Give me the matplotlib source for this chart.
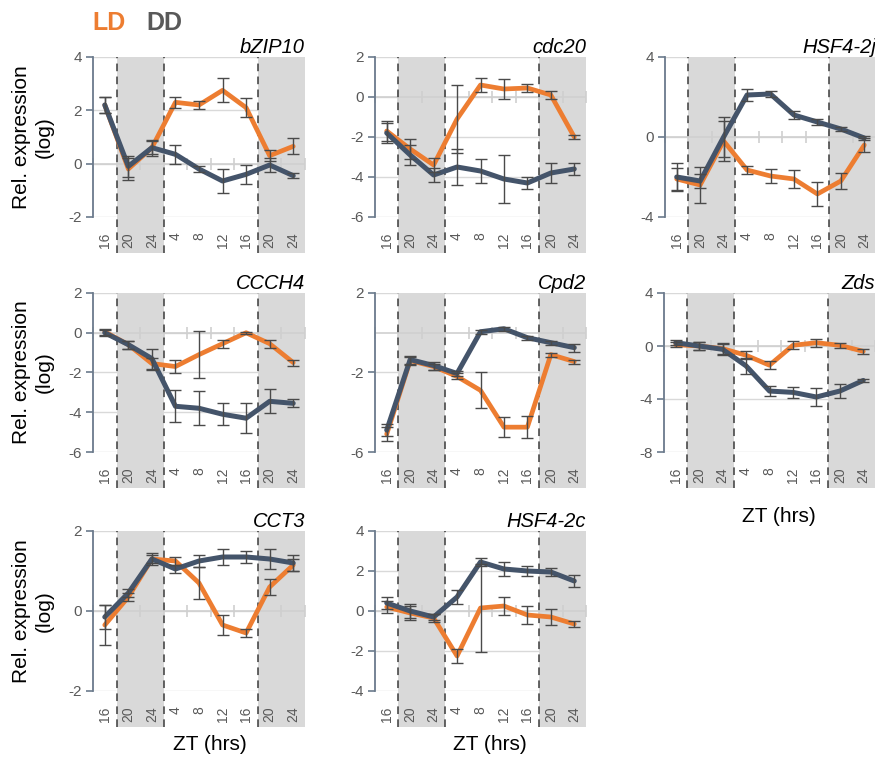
import matplotlib
matplotlib.use("Agg")
import matplotlib.pyplot as plt
from matplotlib.patches import Rectangle

plt.rcParams['font.family'] = ['Liberation Sans', 'DejaVu Sans']

# ---------------- data ----------------
zt_labels = ["16", "20", "24", "4", "8", "12", "16", "20", "24"]

genes = ["bZIP10", "cdc20", "HSF4-2j", "CCCH4", "Cpd2", "Zds", "CCT3", "HSF4-2c"]

ld_bZIP10 = [2.2, -0.2, 0.6, 2.3, 2.2, 2.75, 2.1, 0.3, 0.65]
ld_bZIP10_err = [0.3, 0.4, 0.25, 0.2, 0.15, 0.45, 0.35, 0.2, 0.3]
dd_bZIP10 = [2.2, -0.1, 0.6, 0.35, -0.2, -0.65, -0.4, -0.05, -0.45]
dd_bZIP10_err = [0.3, 0.4, 0.3, 0.35, 0.1, 0.45, 0.35, 0.25, 0.1]

ld_cdc20 = [-1.7, -2.6, -3.4, -1.1, 0.6, 0.4, 0.45, 0.1, -2.0]
ld_cdc20_err = [0.5, 0.5, 0.35, 1.7, 0.35, 0.5, 0.2, 0.2, 0.1]
dd_cdc20 = [-1.8, -2.9, -3.9, -3.5, -3.7, -4.1, -4.3, -3.8, -3.6]
dd_cdc20_err = [0.5, 0.5, 0.35, 0.9, 0.6, 1.2, 0.3, 0.5, 0.3]

ld_HSF42j = [-2.1, -2.4, -0.2, -1.65, -1.95, -2.1, -2.85, -2.2, -0.4]
ld_HSF42j_err = [0.55, 0.9, 1.0, 0.2, 0.35, 0.45, 0.6, 0.4, 0.35]
dd_HSF42j = [-2.0, -2.2, 0.0, 2.1, 2.15, 1.1, 0.75, 0.4, -0.05]
dd_HSF42j_err = [0.7, 0.35, 1.0, 0.3, 0.15, 0.2, 0.15, 0.1, 0.1]

ld_CCCH4 = [0.05, -0.6, -1.55, -1.7, -1.1, -0.55, 0.0, -0.55, -1.5]
ld_CCCH4_err = [0.15, 0.2, 0.3, 0.35, 1.2, 0.2, 0.05, 0.2, 0.15]
dd_CCCH4 = [0.0, -0.6, -1.3, -3.7, -3.8, -4.1, -4.3, -3.45, -3.55]
dd_CCCH4_err = [0.15, 0.2, 0.5, 0.8, 0.85, 0.55, 0.75, 0.6, 0.2]

ld_Cpd2 = [-5.1, -1.4, -1.7, -2.2, -2.9, -4.75, -4.75, -1.1, -1.45]
ld_Cpd2_err = [0.35, 0.2, 0.15, 0.15, 0.9, 0.5, 0.55, 0.1, 0.1]
dd_Cpd2 = [-4.9, -1.35, -1.65, -2.05, 0.05, 0.2, -0.25, -0.5, -0.75]
dd_Cpd2_err = [0.3, 0.2, 0.2, 0.15, 0.1, 0.1, 0.1, 0.1, 0.2]

ld_Zds = [0.1, 0.0, -0.2, -0.7, -1.45, 0.05, 0.25, 0.05, -0.4]
ld_Zds_err = [0.2, 0.3, 0.4, 0.3, 0.3, 0.3, 0.3, 0.2, 0.2]
dd_Zds = [0.25, 0.0, -0.25, -1.5, -3.4, -3.5, -3.85, -3.4, -2.6]
dd_Zds_err = [0.2, 0.3, 0.4, 0.6, 0.4, 0.4, 0.7, 0.5, 0.1]

ld_CCT3 = [-0.35, 0.35, 1.3, 1.25, 0.7, -0.35, -0.55, 0.6, 1.15]
ld_CCT3_err = [0.5, 0.1, 0.15, 0.1, 0.4, 0.25, 0.1, 0.2, 0.15]
dd_CCT3 = [-0.15, 0.45, 1.3, 1.05, 1.25, 1.35, 1.35, 1.3, 1.2]
dd_CCT3_err = [0.3, 0.1, 0.1, 0.1, 0.15, 0.2, 0.15, 0.25, 0.2]

ld_HSF42c = [0.2, -0.1, -0.35, -2.25, 0.15, 0.25, -0.2, -0.3, -0.65]
ld_HSF42c_err = [0.3, 0.35, 0.2, 0.35, 2.2, 0.45, 0.45, 0.4, 0.15]
dd_HSF42c = [0.4, 0.0, -0.3, 0.7, 2.45, 2.1, 2.0, 1.95, 1.5]
dd_HSF42c_err = [0.3, 0.35, 0.15, 0.35, 0.2, 0.35, 0.25, 0.2, 0.3]

ld_series = [ld_bZIP10, ld_cdc20, ld_HSF42j, ld_CCCH4, ld_Cpd2, ld_Zds, ld_CCT3, ld_HSF42c]
ld_errs = [ld_bZIP10_err, ld_cdc20_err, ld_HSF42j_err, ld_CCCH4_err, ld_Cpd2_err, ld_Zds_err, ld_CCT3_err, ld_HSF42c_err]
dd_series = [dd_bZIP10, dd_cdc20, dd_HSF42j, dd_CCCH4, dd_Cpd2, dd_Zds, dd_CCT3, dd_HSF42c]
dd_errs = [dd_bZIP10_err, dd_cdc20_err, dd_HSF42j_err, dd_CCCH4_err, dd_Cpd2_err, dd_Zds_err, dd_CCT3_err, dd_HSF42c_err]

y_limits = [(-2, 4), (-6, 2), (-4, 4), (-6, 2), (-6, 2), (-8, 4), (-2, 2), (-4, 4)]
y_ticks = [[-2, 0, 2, 4], [-6, -4, -2, 0, 2], [-4, 0, 4], [-6, -4, -2, 0, 2],
           [-6, -2, 2], [-8, -4, 0, 4], [-2, 0, 2], [-4, -2, 0, 2, 4]]

# ---------------- style ----------------
ORANGE = '#ED7D31'
NAVY = '#44546A'
GRAYTXT = '#595959'
SHADE = '#D9D9D9'
GRID = '#D9D9D9'
AXIS = '#6B7A8C'
ERR = '#4A4A4A'

W, H = 875, 758
fig = plt.figure(figsize=(W / 100, H / 100), dpi=100)

# panel boxes in pixels: (left, top, right, bottom)
boxes = [
    (93, 57, 305, 217), (375, 57, 586, 217), (665, 57, 876, 217),
    (93, 293, 305, 452), (375, 293, 586, 452), (664, 293, 875, 452),
    (93, 531, 305, 691), (375, 531, 586, 691),
]

x = list(range(len(zt_labels)))
shade_below_px = 36

for k, gene in enumerate(genes):
    l, t, r, b = boxes[k]
    ax = fig.add_axes([l / W, 1 - b / H, (r - l) / W, (b - t) / H])
    ax.set_xlim(-0.5, len(x) - 0.5)
    ax.set_ylim(*y_limits[k])
    hfrac = shade_below_px / (b - t)

    # dark shading
    for (x0, x1) in [(0.5, 2.5), (6.5, len(x) - 0.5)]:
        ax.add_patch(Rectangle((x0, -hfrac), x1 - x0, 1 + hfrac,
                               transform=ax.get_xaxis_transform(),
                               facecolor=SHADE, edgecolor='none',
                               clip_on=False, zorder=0))
    # gridlines
    for yt in y_ticks[k]:
        ax.axhline(yt, color=GRID, lw=1.0, zorder=0.8)
    # category axis at zero with cross ticks
    ax.axhline(0, color='#D0D0D0', lw=1.2, zorder=0.9)
    ax.plot([i + 0.5 for i in range(-1, len(x))], [0] * (len(x) + 1),
            linestyle='none', marker='|', markersize=9, mew=1.2,
            color='#CFCFCF', zorder=0.9, clip_on=False)
    # dashed boundaries
    for xd in [0.5, 2.5, 6.5]:
        ax.axvline(xd, ymin=-hfrac, ymax=1, color='#3A3A3A', lw=1.1,
                   linestyle=(0, (5, 3.5)), clip_on=False, zorder=1)

    # lines
    ax.plot(x, ld_series[k], color=ORANGE, lw=3.4, solid_joinstyle='round',
            solid_capstyle='round', zorder=3)
    ax.plot(x, dd_series[k], color=NAVY, lw=3.6, solid_joinstyle='round',
            solid_capstyle='round', zorder=3.5)
    ax.errorbar(x, ld_series[k], yerr=ld_errs[k], fmt='none', ecolor=ERR,
                elinewidth=1.0, capsize=4, capthick=1.0, zorder=4)
    ax.errorbar(x, dd_series[k], yerr=dd_errs[k], fmt='none', ecolor=ERR,
                elinewidth=1.0, capsize=4, capthick=1.0, zorder=4)

    # axes styling
    for s in ['top', 'right', 'bottom']:
        ax.spines[s].set_visible(False)
    ax.spines['left'].set_color(AXIS)
    ax.spines['left'].set_linewidth(1.3)
    ax.spines['left'].set_zorder(2)
    ax.set_yticks(y_ticks[k])
    ax.set_yticklabels([str(v) for v in y_ticks[k]])
    ax.tick_params(axis='y', colors=AXIS, length=5, width=1.2, pad=3,
                   labelsize=11, labelcolor=GRAYTXT)
    ax.set_xticks(x)
    ax.set_xticklabels(zt_labels, rotation=90)
    ax.tick_params(axis='x', length=0, pad=11, labelsize=10, labelcolor=GRAYTXT)
    ax.set_title(gene, loc='right', fontstyle='italic', fontsize=14.5,
                 pad=3, color='black')

# y labels
for (l, t, r, b) in [boxes[0], boxes[3], boxes[6]]:
    fig.text(33 / W, 1 - (t + b) / 2 / H, "Rel. expression\n(log)", rotation=90,
             ha='center', va='center', multialignment='center',
             fontsize=15, color='black', linespacing=1.25)

# x labels
for (px, py) in [(210, 745), (490, 745), (779, 517)]:
    fig.text(px / W, 1 - py / H, "ZT (hrs)", ha='center', va='center',
             fontsize=15, color='black')

# legend text
fig.text(92 / W, 1 - 23 / H, "LD", color=ORANGE, fontsize=18,
         fontweight='bold', ha='left', va='center')
fig.text(146 / W, 1 - 23 / H, "DD", color=GRAYTXT, fontsize=18,
         fontweight='bold', ha='left', va='center')

fig.savefig("out.png", dpi=100)
